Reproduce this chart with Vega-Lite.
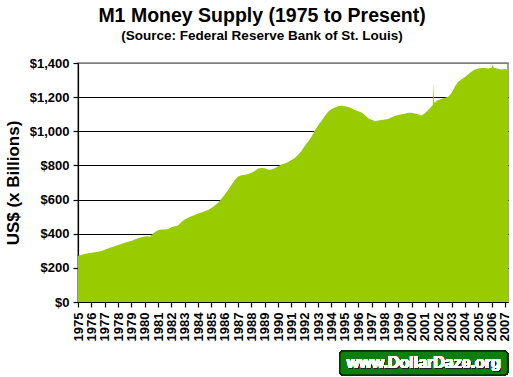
{
  "$schema": "https://vega.github.io/schema/vega-lite/v6.json",
  "width": 430,
  "height": 239,
  "autosize": "none",
  "padding": {"left": 78, "top": 63, "right": 5, "bottom": 75},
  "background": "white",
  "title": {
    "text": "M1 Money Supply (1975 to Present)",
    "subtitle": "(Source: Federal Reserve Bank of St. Louis)",
    "font": "Liberation Sans",
    "fontSize": 19.5,
    "fontWeight": "bold",
    "color": "black",
    "subtitleFont": "Liberation Sans",
    "subtitleFontSize": 13.5,
    "subtitleFontWeight": "bold",
    "subtitleColor": "black",
    "subtitlePadding": 2,
    "anchor": "middle",
    "dx": -31,
    "offset": 14
  },
  "data": {
    "values": [
      {"year": 1975.00, "m1": 271}, {"year": 1975.25, "m1": 276}, {"year": 1975.50, "m1": 281}, {"year": 1975.75, "m1": 285},
      {"year": 1976.00, "m1": 288}, {"year": 1976.25, "m1": 291}, {"year": 1976.50, "m1": 295}, {"year": 1976.75, "m1": 299},
      {"year": 1977.00, "m1": 306}, {"year": 1977.25, "m1": 314}, {"year": 1977.50, "m1": 320}, {"year": 1977.75, "m1": 327},
      {"year": 1978.00, "m1": 334}, {"year": 1978.25, "m1": 340}, {"year": 1978.50, "m1": 347}, {"year": 1978.75, "m1": 353},
      {"year": 1979.00, "m1": 358}, {"year": 1979.25, "m1": 366}, {"year": 1979.50, "m1": 373}, {"year": 1979.75, "m1": 379},
      {"year": 1980.00, "m1": 383}, {"year": 1980.25, "m1": 385}, {"year": 1980.40, "m1": 382}, {"year": 1980.50, "m1": 392},
      {"year": 1980.75, "m1": 408}, {"year": 1981.00, "m1": 420}, {"year": 1981.25, "m1": 424}, {"year": 1981.50, "m1": 425},
      {"year": 1981.75, "m1": 427}, {"year": 1982.00, "m1": 438}, {"year": 1982.25, "m1": 444}, {"year": 1982.50, "m1": 448},
      {"year": 1982.75, "m1": 468}, {"year": 1983.00, "m1": 483}, {"year": 1983.25, "m1": 493}, {"year": 1983.50, "m1": 502},
      {"year": 1983.75, "m1": 510}, {"year": 1984.00, "m1": 518}, {"year": 1984.25, "m1": 525}, {"year": 1984.50, "m1": 532},
      {"year": 1984.75, "m1": 539}, {"year": 1985.00, "m1": 550}, {"year": 1985.25, "m1": 565}, {"year": 1985.50, "m1": 582},
      {"year": 1985.75, "m1": 605}, {"year": 1986.00, "m1": 630}, {"year": 1986.25, "m1": 656}, {"year": 1986.50, "m1": 685},
      {"year": 1986.75, "m1": 715}, {"year": 1987.00, "m1": 735}, {"year": 1987.25, "m1": 742}, {"year": 1987.50, "m1": 745},
      {"year": 1987.75, "m1": 750}, {"year": 1988.00, "m1": 757}, {"year": 1988.25, "m1": 768}, {"year": 1988.50, "m1": 782},
      {"year": 1988.75, "m1": 785}, {"year": 1989.00, "m1": 783}, {"year": 1989.25, "m1": 775}, {"year": 1989.50, "m1": 776},
      {"year": 1989.75, "m1": 783}, {"year": 1990.00, "m1": 795}, {"year": 1990.25, "m1": 805}, {"year": 1990.50, "m1": 812},
      {"year": 1990.75, "m1": 820}, {"year": 1991.00, "m1": 832}, {"year": 1991.25, "m1": 843}, {"year": 1991.50, "m1": 862},
      {"year": 1991.75, "m1": 885}, {"year": 1992.00, "m1": 915}, {"year": 1992.25, "m1": 940}, {"year": 1992.50, "m1": 968},
      {"year": 1992.75, "m1": 1005}, {"year": 1993.00, "m1": 1035}, {"year": 1993.25, "m1": 1060}, {"year": 1993.50, "m1": 1090},
      {"year": 1993.75, "m1": 1115}, {"year": 1994.00, "m1": 1130}, {"year": 1994.25, "m1": 1140}, {"year": 1994.50, "m1": 1147},
      {"year": 1994.75, "m1": 1149}, {"year": 1995.00, "m1": 1147}, {"year": 1995.25, "m1": 1142}, {"year": 1995.50, "m1": 1135},
      {"year": 1995.75, "m1": 1125}, {"year": 1996.00, "m1": 1118}, {"year": 1996.25, "m1": 1110}, {"year": 1996.50, "m1": 1095},
      {"year": 1996.75, "m1": 1077}, {"year": 1997.00, "m1": 1068}, {"year": 1997.25, "m1": 1060}, {"year": 1997.50, "m1": 1063},
      {"year": 1997.75, "m1": 1066}, {"year": 1998.00, "m1": 1069}, {"year": 1998.25, "m1": 1072}, {"year": 1998.50, "m1": 1082},
      {"year": 1998.75, "m1": 1090}, {"year": 1999.00, "m1": 1096}, {"year": 1999.25, "m1": 1100}, {"year": 1999.50, "m1": 1103},
      {"year": 1999.75, "m1": 1108}, {"year": 2000.00, "m1": 1108}, {"year": 2000.25, "m1": 1104}, {"year": 2000.50, "m1": 1100},
      {"year": 2000.75, "m1": 1092}, {"year": 2001.00, "m1": 1105}, {"year": 2001.25, "m1": 1125}, {"year": 2001.50, "m1": 1145},
      {"year": 2001.60, "m1": 1155}, {"year": 2001.65, "m1": 1277}, {"year": 2001.70, "m1": 1165}, {"year": 2001.90, "m1": 1180},
      {"year": 2002.25, "m1": 1190}, {"year": 2002.50, "m1": 1197}, {"year": 2002.75, "m1": 1203}, {"year": 2003.00, "m1": 1225},
      {"year": 2003.25, "m1": 1262}, {"year": 2003.50, "m1": 1290}, {"year": 2003.75, "m1": 1305}, {"year": 2004.00, "m1": 1318},
      {"year": 2004.25, "m1": 1334}, {"year": 2004.50, "m1": 1350}, {"year": 2004.75, "m1": 1362}, {"year": 2005.00, "m1": 1368},
      {"year": 2005.25, "m1": 1370}, {"year": 2005.50, "m1": 1370}, {"year": 2005.75, "m1": 1368}, {"year": 2006.00, "m1": 1372},
      {"year": 2006.10, "m1": 1392}, {"year": 2006.15, "m1": 1372}, {"year": 2006.50, "m1": 1366}, {"year": 2006.75, "m1": 1362},
      {"year": 2007.00, "m1": 1365}, {"year": 2007.23, "m1": 1360}
    ]
  },
  "resolve": {"axis": {"x": "independent", "y": "independent"}},
  "layer": [
    {
      "mark": {"type": "area", "color": "#99CC00", "interpolate": "linear"},
      "encoding": {
        "x": {
          "field": "year",
          "type": "quantitative",
          "scale": {"domain": [1975, 2007.23], "nice": false, "zero": false},
          "axis": {
            "title": null,
            "values": [1975, 1976, 1977, 1978, 1979, 1980, 1981, 1982, 1983, 1984, 1985, 1986, 1987, 1988, 1989, 1990, 1991, 1992, 1993, 1994, 1995, 1996, 1997, 1998, 1999, 2000, 2001, 2002, 2003, 2004, 2005, 2006, 2007],
            "format": "d",
            "labelAngle": -90,
            "labelFont": "Liberation Sans",
            "labelFontSize": 13,
            "labelFontWeight": "bold",
            "labelColor": "black",
            "labelPadding": 5,
            "labelOverlap": false,
            "labelFlush": false,
            "tickSize": 5,
            "tickColor": "black",
            "domainColor": "black",
            "grid": false
          }
        },
        "y": {
          "field": "m1",
          "type": "quantitative",
          "scale": {"domain": [0, 1400], "nice": false},
          "axis": {
            "title": "US$ (x Billions)",
            "titleFont": "Liberation Sans",
            "titleFontSize": 17,
            "titleFontWeight": "bold",
            "titleColor": "black",
            "titlePadding": 7,
            "values": [0, 200, 400, 600, 800, 1000, 1200, 1400],
            "labelExpr": "'$' + format(datum.value, ',')",
            "labelFont": "Liberation Sans",
            "labelFontSize": 13,
            "labelFontWeight": "bold",
            "labelColor": "black",
            "labelPadding": 4,
            "labelOverlap": false,
            "tickSize": 5,
            "tickColor": "black",
            "domainColor": "black",
            "grid": true,
            "gridColor": {"condition": {"test": "datum.value == 1400", "value": "#808080"}, "value": "black"},
            "gridWidth": 1.2,
            "gridOpacity": 1
          }
        }
      }
    },
    {
      "mark": {"type": "rect", "color": "#0B7F0B", "stroke": "#053305", "strokeWidth": 1.5, "cornerRadius": 4},
      "encoding": {
        "x": {"datum": 1994.63, "type": "quantitative", "axis": null},
        "x2": {"datum": 2007.2},
        "y": {"datum": -287, "type": "quantitative", "axis": null},
        "y2": {"datum": -428}
      }
    },
    {
      "mark": {"type": "text", "color": "#222222", "font": "Liberation Sans", "fontSize": 16, "fontWeight": "bold", "align": "center", "baseline": "middle", "dx": 1, "dy": 1},
      "encoding": {
        "x": {"datum": 2000.92, "type": "quantitative", "axis": null},
        "y": {"datum": -357, "type": "quantitative", "axis": null},
        "text": {"value": "www.DollarDaze.org"}
      }
    },
    {
      "mark": {"type": "text", "color": "white", "font": "Liberation Sans", "fontSize": 16, "fontWeight": "bold", "align": "center", "baseline": "middle"},
      "encoding": {
        "x": {"datum": 2000.92, "type": "quantitative", "axis": null},
        "y": {"datum": -357, "type": "quantitative", "axis": null},
        "text": {"value": "www.DollarDaze.org"}
      }
    }
  ],
  "config": {
    "view": {"stroke": "#808080", "strokeWidth": 1.5},
    "axis": {"domainWidth": 1.2, "tickWidth": 1.2}
  }
}
